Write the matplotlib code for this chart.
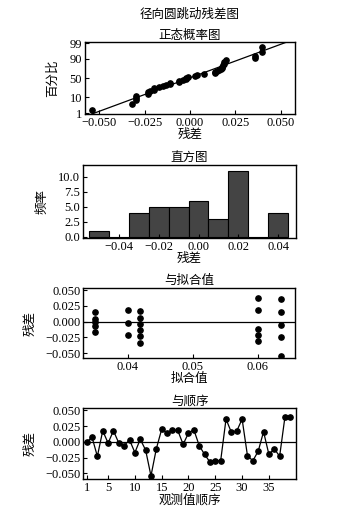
import numpy as np
import matplotlib
matplotlib.use('Agg')
import matplotlib.pyplot as plt
from statistics import NormalDist

plt.rcParams['font.family'] = ['Liberation Serif', 'Noto Sans CJK SC']
plt.rcParams['font.size'] = 9
plt.rcParams['axes.linewidth'] = 1.0

order_resid = [-0.001, 0.0075, -0.023, 0.0175, -0.002, 0.0175, -0.002, -0.006, 0.003,
               -0.017, 0.004, -0.013, -0.054, -0.011, 0.020, 0.014, 0.019, 0.018,
               -0.004, 0.014, 0.019, -0.006, -0.020, -0.032, -0.030, -0.030, 0.036,
               0.015, 0.017, 0.036, -0.022, -0.030, -0.015, 0.016, -0.020, -0.011,
               -0.023, 0.040, 0.040]

# histogram bins (centres) and counts
hist_centers = [-0.05, -0.04, -0.03, -0.02, -0.01, 0.00, 0.01, 0.02, 0.03, 0.04]
hist_counts = [1, 0, 4, 5, 5, 6, 3, 11, 0, 4]

# residuals versus fitted values
fit_x = [0.035, 0.035, 0.035, 0.035, 0.035,
         0.040, 0.040, 0.040,
         0.0419, 0.0419, 0.0419, 0.0419, 0.0419, 0.0419,
         0.0600, 0.0600, 0.0600, 0.0600, 0.0600,
         0.0636, 0.0636, 0.0636, 0.0636, 0.0636]
fit_resid = [0.0147, 0.0042, -0.0011, -0.0063, -0.0163,
             0.019, -0.0016, -0.021,
             0.0174, 0.0063, -0.0032, -0.0132, -0.023, -0.033,
             0.0384, 0.019, -0.0116, -0.021, -0.0305,
             0.0358, 0.0147, -0.0047, -0.0247, -0.0537]

prob_ticks = [1, 10, 50, 90, 99]
resid_ticks = [-0.05, -0.025, 0, 0.025, 0.05]
resid_labels = ['−0.050', '−0.025', '0.000', '0.025', '0.050']

CN = 9  # size of the Chinese labels

fig = plt.figure(figsize=(3.55, 5.14), dpi=100)
nd = NormalDist()

def style(ax):
    ax.tick_params(direction='in', length=3, width=0.8, pad=2, labelsize=9)

# ---- normal probability plot
ax1 = fig.add_axes([0.239, 0.778, 0.592, 0.140])
r = np.sort(np.array(order_resid))
n = len(r)
z = [nd.inv_cdf((i + 1 - 0.3) / (n + 0.4)) for i in range(n)]
ax1.plot(r, z, 'o', color='black', markersize=3.8)
mu, sd = r.mean(), r.std(ddof=1)
zz = np.array([-3, 3])
ax1.plot(mu + sd * zz, zz, color='black', lw=0.9)
ax1.set_xlim(-0.058, 0.058)
ax1.set_ylim(-2.4, 2.4)
ax1.set_yticks([nd.inv_cdf(p / 100) for p in prob_ticks])
ax1.set_yticklabels([str(p) for p in prob_ticks])
ax1.set_xticks([-0.05, -0.025, 0, 0.025, 0.05])
ax1.set_xticklabels(resid_labels)
ax1.set_xlabel('残差', fontsize=CN, labelpad=0)
ax1.set_ylabel('百分比', fontsize=CN, labelpad=8)
ax1.set_title('正态概率图', fontsize=CN, pad=2)
style(ax1)
fig.text(0.535, 0.971, '径向圆跳动残差图', ha='center', va='center', fontsize=CN)

# ---- histogram
ax2 = fig.add_axes([0.234, 0.536, 0.600, 0.143])
ax2.bar(hist_centers, hist_counts, width=0.01, color='#444444', edgecolor='black', lw=0.8)
ax2.set_xlim(-0.058, 0.049)
ax2.set_ylim(-0.3, 12)
ax2.set_yticks([0, 2.5, 5, 7.5, 10])
ax2.set_yticklabels(['0.0', '2.5', '5.0', '7.5', '10.0'])
ax2.set_xticks([-0.04, -0.02, 0, 0.02, 0.04])
ax2.set_xticklabels(['−0.04', '−0.02', '0.00', '0.02', '0.04'])
ax2.set_xlabel('残差', fontsize=CN, labelpad=0)
ax2.set_ylabel('频率', fontsize=CN, labelpad=7)
ax2.set_title('直方图', fontsize=CN, pad=3)
style(ax2)

# ---- versus fits
ax3 = fig.add_axes([0.235, 0.303, 0.595, 0.136])
ax3.plot(fit_x, fit_resid, 'o', color='black', markersize=3.8)
ax3.axhline(0, color='black', lw=0.9)
ax3.set_xlim(0.0332, 0.0657)
ax3.set_ylim(-0.058, 0.053)
ax3.set_xticks([0.04, 0.05, 0.06])
ax3.set_yticks(resid_ticks)
ax3.set_yticklabels(resid_labels)
ax3.set_xlabel('拟合值', fontsize=CN, labelpad=0)
ax3.set_ylabel('残差', fontsize=CN, labelpad=6)
ax3.set_title('与拟合值', fontsize=CN, pad=3)
style(ax3)

# ---- versus order
ax4 = fig.add_axes([0.235, 0.068, 0.598, 0.1375])
obs = np.arange(1, len(order_resid) + 1)
ax4.plot(obs, order_resid, '-o', color='black', markersize=3.8, lw=0.9)
ax4.axhline(0, color='black', lw=0.9)
ax4.set_xlim(0.4, 40)
ax4.set_ylim(-0.059, 0.053)
ax4.set_xticks([1, 5, 10, 15, 20, 25, 30, 35])
ax4.set_yticks(resid_ticks)
ax4.set_yticklabels(resid_labels)
ax4.set_xlabel('观测值顺序', fontsize=CN, labelpad=0)
ax4.set_ylabel('残差', fontsize=CN, labelpad=6)
ax4.set_title('与顺序', fontsize=CN, pad=3)
style(ax4)

fig.savefig('out.png', dpi=100)
